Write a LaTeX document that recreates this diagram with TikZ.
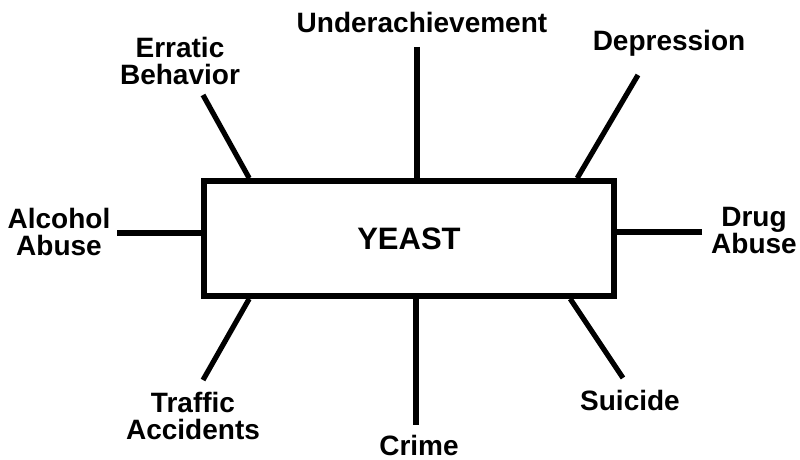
\documentclass[tikz,border=0pt]{standalone}
\usepackage{fontspec}
\setmainfont{Liberation Sans}
\usetikzlibrary{positioning,calc}
\tikzset{
    label/.style={align=center, inner sep=0pt, font=\fontsize{14}{13.5}\selectfont\bfseries},
    spoke/.style={line width=2.6pt},
    center box/.style={draw, line width=2.8pt, minimum width=205pt, minimum height=57.5pt, inner sep=0pt, font=\fontsize{15.5}{16}\selectfont\bfseries}
}

\begin{document}
\begin{tikzpicture}[x=0.5pt,y=-0.5pt]
            \useasboundingbox (0,0) rectangle (800,460);
            % 
            \node[center box] (yeast) at (409,238.5) {YEAST};
            
            % 
            \node[label] (erratic) at (180,61) {Erratic\\Behavior};
            \node[label] (under) at (422,22) {Underachievement};
            \node[label] (depr) at (669,43) {Depression};
            \node[label] (alco) at (59,232) {Alcohol\\Abuse};
            \node[label] (drug) at (754,231) {Drug\\Abuse};
            \node[label] (traffic) at (193,416) {Traffic\\Accidents};
            \node[label] (crime) at (419,445) {Crime};
            \node[label] (suicide) at (630,400) {Suicide};
            
            % free ends
            \coordinate (eb) at (203,95);
            \coordinate (ua) at (417,47);
            \coordinate (dp) at (638,75);
            \coordinate (aa) at (117,233);
            \coordinate (da) at (702,232);
            \coordinate (ta) at (203,380);
            \coordinate (cr) at (416,425);
            \coordinate (su) at (623,378);
            
            % Spokes
            \draw[spoke] (eb) -- ([xshift=24pt]yeast.north west);
            \draw[spoke] (ua) -- (ua |- yeast.north);
            \draw[spoke] (dp) -- ([xshift=188pt]yeast.north west);
            \draw[spoke] (aa) -- (aa -| yeast.west);
            \draw[spoke] (da) -- (da -| yeast.east);
            \draw[spoke] (ta) -- ([xshift=24pt]yeast.south west);
            \draw[spoke] (cr) -- (cr |- yeast.south);
            \draw[spoke] (su) -- ([xshift=184.5pt]yeast.south west);
            
        \end{tikzpicture}
\end{document}
